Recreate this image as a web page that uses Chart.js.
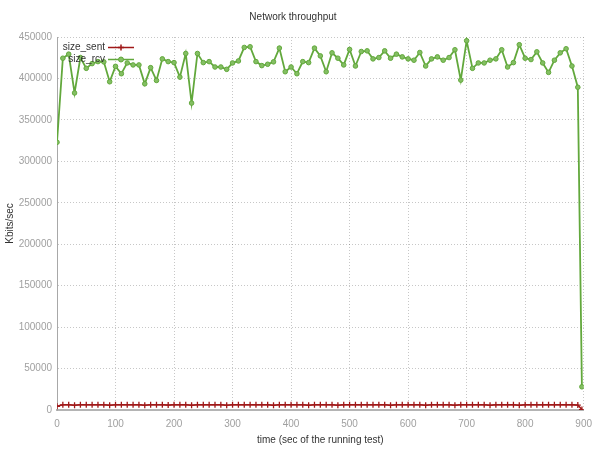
<!DOCTYPE html>
<html>
<head>
<meta charset="utf-8">
<script src="https://cdn.jsdelivr.net/npm/chart.js@4.4.1/dist/chart.umd.min.js"></script>
<style>
html,body{margin:0;padding:0;background:#fff;}
#wrap{width:600px;height:449px;position:relative;}
</style>
</head>
<body>
<div id="wrap"><canvas id="c" width="600" height="449"></canvas></div>
<script>
const chartTitle = "Network throughput";
const xTitle = "time (sec of the running test)";
const yTitle = "Kbits/sec";
const seriesNames = ["size_sent", "size_rcv"];

const times = [0,10,20,30,40,50,60,70,80,90,100,110,120,130,140,150,160,170,180,190,
  200,210,220,230,240,250,260,270,280,290,300,310,320,330,340,350,360,370,380,390,
  400,410,420,430,440,450,460,470,480,490,500,510,520,530,540,550,560,570,580,590,
  600,610,620,630,640,650,660,670,680,690,700,710,720,730,740,750,760,770,780,790,
  800,810,820,830,840,850,860,870,880,890,897];

const sizeSent = [4500,6300,6200,5800,6300,6200,6300,6200,6300,5800,
  6300,6300,6200,6300,6300,5800,6300,6200,6300,5900,
  6300,6300,6200,5800,6300,6300,6200,6300,6300,5800,
  6300,6300,6200,6300,6300,6200,6300,5800,6300,6300,
  6200,6300,6300,5800,6300,6200,6300,6300,5800,6300,
  6300,6200,6300,6300,6200,6300,6300,5800,6300,6300,
  6200,6300,6300,5800,6300,6200,6300,6300,5800,6300,
  6300,6200,6300,6300,5800,6300,6300,6200,6300,5800,
  6300,6300,6200,6300,6300,6200,6300,6300,6200,5900,500];

const sizeRcv = [323000,424400,429300,382500,425200,412200,417900,420300,420000,396000,
  414600,405700,418700,416300,416300,393500,413000,397600,423600,420300,
  419100,401600,430100,370300,430100,419100,420300,413800,413800,411000,
  418700,421100,437400,438200,420300,415500,417100,420000,436600,408100,
  413800,405700,420300,419100,436600,427200,408100,430900,424400,416300,
  435000,415000,432500,433300,423600,425200,433300,424400,429300,426000,
  423600,422000,431300,415000,423600,426000,422000,425200,434600,398000,
  445500,412200,418700,418700,422000,423600,434600,413800,419100,440700,
  424400,422800,432100,418700,407300,422000,430900,435800,415000,389400,28000];

const xTicks = {min:0, max:900, step:100};
const yTicks = {min:0, max:450000, step:50000};

const RED = '#a01818';
const GREEN = '#62a83c';

function pts(vals){ return vals.map((v,i)=>({x:times[i], y:v})); }

const insideLegend = {
  id:'insideLegend',
  afterDraw(chart){
    const ctx = chart.ctx;
    const ds = chart.data.datasets;
    ctx.save();
    ctx.font = '10px "Liberation Sans", Arial, sans-serif';
    ctx.textAlign = 'right';
    ctx.textBaseline = 'middle';
    const x = chart.chartArea.left + 48;
    ds.forEach((d,i)=>{
      const y = chart.chartArea.top + 10.5 + i*12;
      ctx.fillStyle = '#333';
      ctx.fillText(d.label, x, y);
      ctx.strokeStyle = d.borderColor;
      ctx.lineWidth = 1.5;
      ctx.beginPath(); ctx.moveTo(x+3, y); ctx.lineTo(x+29, y); ctx.stroke();
      const mx = x+16;
      if (d.pointStyle === 'cross'){
        ctx.beginPath(); ctx.moveTo(mx-3,y); ctx.lineTo(mx+3,y); ctx.moveTo(mx,y-3); ctx.lineTo(mx,y+3); ctx.stroke();
      } else {
        ctx.fillStyle = d.pointBackgroundColor;
        ctx.beginPath(); ctx.arc(mx,y,2.5,0,Math.PI*2); ctx.fill(); ctx.lineWidth=1; ctx.stroke();
      }
    });
    ctx.restore();
  }
};

Chart.defaults.font.family = '"Liberation Sans", Arial, sans-serif';
Chart.defaults.font.size = 10;

new Chart(document.getElementById('c'), {
  type:'line',
  data:{
    datasets:[
      {label:seriesNames[0], data:pts(sizeSent), borderColor:RED, backgroundColor:RED,
       borderWidth:1.5, pointStyle:'cross', pointRadius:3, pointBorderWidth:1.3,
       pointBorderColor:RED, pointBackgroundColor:RED, tension:0},
      {label:seriesNames[1], data:pts(sizeRcv), borderColor:GREEN, backgroundColor:GREEN,
       borderWidth:1.8, pointStyle:'circle', pointRadius:2.3, pointBorderWidth:1,
       pointBorderColor:GREEN, pointBackgroundColor:'#84bf63', tension:0}
    ]
  },
  options:{
    responsive:false, animation:false,
    layout:{padding:{left:0,right:14,top:0,bottom:0}},
    plugins:{
      legend:{display:false},
      tooltip:{enabled:false},
      title:{display:true, text:chartTitle, color:'#333', font:{size:10, weight:'normal'},
        padding:{top:11,bottom:14}}
    },
    scales:{
      x:{type:'linear', min:xTicks.min, max:xTicks.max,
        afterFit(s){ s.height = 39; },
        ticks:{stepSize:xTicks.step, color:'#a0a0a0', padding:8, maxRotation:0, font:{size:10},
          callback:(v)=>String(v)},
        grid:{color:'rgba(0,0,0,0.22)', lineWidth:1, drawTicks:false},
        border:{display:true, color:'#b4b4b4', width:2, dash:[1,2]},
        title:{display:true, text:xTitle, color:'#333', font:{size:10}, padding:{top:0,bottom:3}}
      },
      y:{type:'linear', min:yTicks.min, max:yTicks.max,
        afterFit(s){ s.width = 57; },
        ticks:{stepSize:yTicks.step, color:'#a0a0a0', padding:5, font:{size:10},
          callback:(v)=>String(v)},
        grid:{color:'rgba(0,0,0,0.22)', lineWidth:1, drawTicks:false},
        border:{display:true, color:'#a8a8a8', width:1, dash:[1,2]},
        title:{display:true, text:yTitle, color:'#333', font:{size:10}, padding:{top:4,bottom:0}}
      }
    }
  },
  plugins:[insideLegend]
});
</script>
</body>
</html>
